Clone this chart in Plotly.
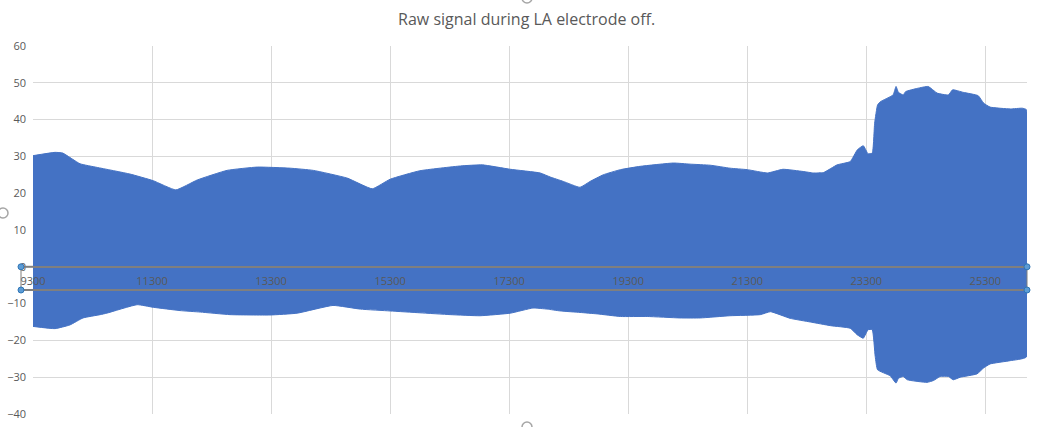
import plotly.graph_objects as go

# Upper envelope of the raw signal (sample index, amplitude)
upper_x = [9300, 9670, 9800, 10090, 10380, 10930, 11320, 11700, 12060, 12560,
           13070, 13620, 14010, 14580, 15000, 15300, 15800, 16480, 16850, 17320,
           17820, 17990, 18210, 18490, 18660, 18880, 19170, 19500, 20060, 20340,
           20680, 21010, 21300, 21640, 21900, 22240, 22410, 22580, 22810, 23030,
           23150, 23250, 23330, 23400, 23440, 23490, 23540, 23750, 23800, 23840,
           23920, 23960, 24160, 24340, 24490, 24680, 24750, 24930, 25180, 25270,
           25380, 25720, 25920, 25990]
upper_y = [30.2, 31.1, 30.9, 28.0, 27.0, 25.2, 23.4, 20.9, 23.6, 26.2,
           27.1, 26.8, 26.2, 24.1, 21.2, 23.8, 26.1, 27.4, 27.7, 26.5,
           25.5, 24.4, 23.2, 21.6, 23.2, 25.0, 26.4, 27.3, 28.2, 27.9,
           27.6, 26.8, 26.4, 25.5, 26.5, 25.9, 25.5, 25.6, 27.7, 28.6,
           31.8, 32.9, 30.7, 30.9, 39.0, 44.0, 44.9, 46.7, 49.0, 47.4,
           46.7, 47.6, 48.5, 49.0, 47.2, 46.7, 48.1, 47.4, 46.5, 44.5,
           43.4, 42.9, 43.1, 42.7]

# Lower envelope of the raw signal
lower_x = [9300, 9670, 9920, 10140, 10430, 10540, 11050, 11320, 11770, 12110,
           12610, 13280, 13740, 14340, 14800, 15300, 15800, 16310, 16810, 17320,
           17700, 17940, 18160, 18490, 18780, 19170, 19620, 20170, 20510, 21010,
           21520, 21690, 22020, 22360, 22700, 23030, 23150, 23250, 23330, 23400,
           23450, 23490, 23700, 23800, 23840, 23920, 23990, 24320, 24430, 24540,
           24680, 24760, 24880, 25160, 25270, 25380, 25720, 25990]
lower_y = [-16.2, -16.8, -15.8, -13.9, -13.0, -12.6, -10.3, -11.0, -11.9, -12.3,
           -13.0, -13.1, -12.6, -10.5, -11.5, -12.0, -12.5, -13.0, -13.3, -12.6,
           -11.2, -11.5, -12.0, -12.4, -12.8, -13.5, -13.5, -13.9, -13.9, -13.3,
           -13.0, -12.2, -14.0, -15.0, -16.0, -16.7, -18.5, -19.4, -17.1, -17.1,
           -24.4, -28.0, -29.6, -31.6, -30.3, -29.8, -30.7, -31.4, -30.9, -29.8,
           -29.8, -30.7, -30.0, -29.1, -27.5, -26.4, -25.5, -24.5]

x_ticks = [9300, 11300, 13300, 15300, 17300, 19300, 21300, 23300, 25300]
y_ticks = [-40, -30, -20, -10, 0, 10, 20, 30, 40, 50, 60]

title_text = "Raw signal during LA electrode off."

BLUE = "#4472C4"
GRID = "#D9D9D9"
TXT = "#595959"
FONT = "Open Sans"

fig = go.Figure()
fig.add_trace(go.Scatter(
    x=upper_x + lower_x[::-1],
    y=upper_y + lower_y[::-1],
    fill="toself", fillcolor=BLUE,
    line=dict(color=BLUE, width=1, shape="spline", smoothing=0.4),
    mode="lines", hoverinfo="skip", showlegend=False,
))

y_min, y_max = y_ticks[0], y_ticks[-1]
zero_pos = (0 - y_min) / (y_max - y_min)

fig.update_layout(
    width=1047, height=427,
    margin=dict(l=33, r=20, t=46, b=13),
    paper_bgcolor="white", plot_bgcolor="white",
    showlegend=False,
    title=dict(text=title_text, x=0.503, xanchor="center", y=0.955, yanchor="middle",
               font=dict(family=FONT, size=16, color=TXT)),
    xaxis=dict(range=[9300, 26000], tickvals=x_ticks, ticktext=[str(v) for v in x_ticks],
               showgrid=True, gridcolor=GRID, gridwidth=1, zeroline=False,
               anchor="free", position=zero_pos,
               showline=True, linecolor="#7F7F7F", linewidth=2,
               ticks="", ticklabelstandoff=4,
               tickfont=dict(family=FONT, size=11, color=TXT), automargin=False),
    yaxis=dict(range=[y_min, y_max], tickvals=y_ticks, showgrid=True, gridcolor=GRID,
               gridwidth=1, zeroline=False, showline=False, ticks="",
               ticklabelstandoff=6,
               tickfont=dict(family=FONT, size=11, color=TXT), automargin=False),
)

# Excel selection box around the horizontal axis labels
sel_bottom = (414 - 290) / 368.0
x_left = -12 / 994.0
fig.add_shape(type="line", xref="paper", yref="paper", x0=x_left, x1=1.0,
              y0=sel_bottom, y1=sel_bottom, line=dict(color="#7F7F7F", width=2))
fig.add_shape(type="line", xref="paper", yref="paper", x0=x_left, x1=0,
              y0=zero_pos, y1=zero_pos, line=dict(color="#7F7F7F", width=2))
for xx in (x_left, 1.0):
    fig.add_shape(type="line", xref="paper", yref="paper", x0=xx, x1=xx,
                  y0=sel_bottom, y1=zero_pos, line=dict(color="#7F7F7F", width=1))
    for yy in (sel_bottom, zero_pos):
        fig.add_shape(type="circle", xref="paper", yref="paper",
                      x0=xx - 3 / 994, x1=xx + 3 / 994, y0=yy - 3 / 368, y1=yy + 3 / 368,
                      fillcolor="#5B9BD5", line=dict(color="#2E75B6", width=1))

# chart-area selection handles (partially cut off)
for cx, cy in ((494 / 994, (414 + 2) / 368), (494 / 994, (414 - 427) / 368), (-30 / 994, (414 - 213) / 368)):
    fig.add_shape(type="circle", xref="paper", yref="paper",
                  x0=cx - 5 / 994, x1=cx + 5 / 994, y0=cy - 5 / 368, y1=cy + 5 / 368,
                  fillcolor="white", line=dict(color="#A6A6A6", width=1.5))

fig.write_html("out.html")
